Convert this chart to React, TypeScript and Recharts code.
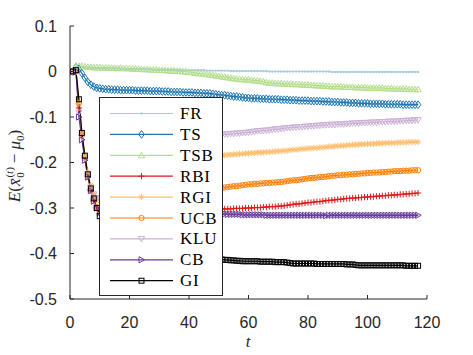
import { LineChart, Line, XAxis, YAxis } from 'recharts'

// time steps
const T = [
  1, 2, 3, 4, 5, 6, 7, 8, 9, 10,
  11, 12, 13, 14, 15, 16, 17, 18, 19, 20,
  21, 22, 23, 24, 25, 26, 27, 28, 29, 30,
  31, 32, 33, 34, 35, 36, 37, 38, 39, 40,
  41, 42, 43, 44, 45, 46, 47, 48, 49, 50,
  51, 52, 53, 54, 55, 56, 57, 58, 59, 60,
  61, 62, 63, 64, 65, 66, 67, 68, 69, 70,
  71, 72, 73, 74, 75, 76, 77, 78, 79, 80,
  81, 82, 83, 84, 85, 86, 87, 88, 89, 90,
  91, 92, 93, 94, 95, 96, 97, 98, 99, 100,
  101, 102, 103, 104, 105, 106, 107, 108, 109, 110,
  111, 112, 113, 114, 115, 116, 117,
]

const FR = [
  0, 0.010, 0.009, 0.009, 0.008, 0.008, 0.008, 0.007, 0.007, 0.007,
  0.007, 0.007, 0.006, 0.006, 0.006, 0.006, 0.006, 0.006, 0.005, 0.005,
  0.005, 0.005, 0.005, 0.005, 0.005, 0.005, 0.005, 0.004, 0.004, 0.004,
  0.004, 0.004, 0.004, 0.004, 0.004, 0.004, 0.003, 0.003, 0.003, 0.003,
  0.003, 0.003, 0.003, 0.003, 0.003, 0.002, 0.002, 0.002, 0.002, 0.002,
  0.002, 0.002, 0.002, 0.001, 0.001, 0.001, 0.001, 0.001, 0.001, 0.001,
  0.001, 0.001, 0.001, 0.001, 0.001, 0.001, 0, 0, 0, 0,
  0, 0, 0, 0, 0, 0, 0, 0, 0, 0,
  0, 0, 0, 0, 0, 0, 0, -0.001, -0.001, -0.001,
  -0.001, -0.001, -0.001, -0.001, -0.001, -0.001, -0.001, -0.001, -0.001, -0.001,
  -0.001, -0.001, -0.001, -0.001, -0.001, -0.001, -0.001, -0.001, -0.001, -0.001,
  -0.001, -0.001, -0.001, -0.001, -0.001, -0.001, -0.001,
]

const TS = [
  0, 0.010, 0.006, -0.004, -0.014, -0.023, -0.029, -0.033, -0.036, -0.037,
  -0.038, -0.039, -0.039, -0.040, -0.040, -0.040, -0.041, -0.041, -0.041, -0.041,
  -0.041, -0.042, -0.042, -0.042, -0.042, -0.042, -0.043, -0.043, -0.043, -0.043,
  -0.044, -0.044, -0.044, -0.045, -0.045, -0.045, -0.045, -0.046, -0.046, -0.046,
  -0.046, -0.047, -0.047, -0.047, -0.048, -0.048, -0.048, -0.049, -0.050, -0.051,
  -0.052, -0.052, -0.053, -0.054, -0.055, -0.055, -0.056, -0.057, -0.058, -0.058,
  -0.059, -0.059, -0.059, -0.060, -0.060, -0.060, -0.061, -0.061, -0.061, -0.061,
  -0.062, -0.062, -0.062, -0.063, -0.063, -0.063, -0.064, -0.064, -0.064, -0.064,
  -0.065, -0.065, -0.065, -0.065, -0.066, -0.066, -0.066, -0.067, -0.067, -0.067,
  -0.068, -0.068, -0.068, -0.069, -0.069, -0.069, -0.070, -0.070, -0.070, -0.070,
  -0.071, -0.071, -0.071, -0.071, -0.071, -0.072, -0.072, -0.072, -0.072, -0.072,
  -0.072, -0.073, -0.073, -0.073, -0.073, -0.073, -0.073,
]

const TSB = [
  0, 0.013, 0.012, 0.012, 0.011, 0.010, 0.010, 0.009, 0.009, 0.009,
  0.008, 0.009, 0.008, 0.008, 0.008, 0.007, 0.008, 0.007, 0.007, 0.007,
  0.006, 0.006, 0.006, 0.005, 0.005, 0.005, 0.004, 0.004, 0.004, 0.003,
  0.003, 0.003, 0.002, 0.002, 0.002, 0.001, 0.001, 0, 0, -0.001,
  -0.002, -0.003, -0.004, -0.004, -0.005, -0.006, -0.007, -0.008, -0.009, -0.010,
  -0.011, -0.012, -0.013, -0.014, -0.015, -0.016, -0.017, -0.017, -0.018, -0.018,
  -0.019, -0.020, -0.020, -0.021, -0.022, -0.024, -0.025, -0.025, -0.026, -0.026,
  -0.026, -0.027, -0.027, -0.027, -0.028, -0.028, -0.028, -0.029, -0.029, -0.029,
  -0.030, -0.030, -0.031, -0.031, -0.031, -0.032, -0.032, -0.033, -0.033, -0.033,
  -0.033, -0.034, -0.034, -0.034, -0.034, -0.035, -0.035, -0.035, -0.035, -0.036,
  -0.036, -0.036, -0.036, -0.036, -0.036, -0.037, -0.037, -0.037, -0.038, -0.038,
  -0.038, -0.038, -0.038, -0.039, -0.039, -0.039, -0.039,
]

const RBI = [
  0, 0, -0.080, -0.140, -0.190, -0.230, -0.260, -0.283, -0.300, -0.312,
  -0.320, -0.325, -0.328, -0.330, -0.331, -0.331, -0.331, -0.330, -0.329, -0.328,
  -0.327, -0.326, -0.325, -0.324, -0.323, -0.322, -0.321, -0.320, -0.319, -0.318,
  -0.317, -0.316, -0.315, -0.314, -0.313, -0.312, -0.311, -0.310, -0.309, -0.308,
  -0.307, -0.306, -0.306, -0.305, -0.304, -0.304, -0.303, -0.303, -0.302, -0.302,
  -0.302, -0.302, -0.302, -0.302, -0.301, -0.301, -0.301, -0.301, -0.300, -0.300,
  -0.300, -0.299, -0.299, -0.299, -0.298, -0.298, -0.297, -0.297, -0.297, -0.296,
  -0.296, -0.295, -0.294, -0.293, -0.292, -0.291, -0.291, -0.290, -0.289, -0.288,
  -0.288, -0.287, -0.286, -0.286, -0.285, -0.284, -0.283, -0.283, -0.282, -0.281,
  -0.281, -0.280, -0.279, -0.279, -0.278, -0.278, -0.277, -0.277, -0.276, -0.276,
  -0.275, -0.275, -0.274, -0.274, -0.273, -0.273, -0.272, -0.272, -0.271, -0.271,
  -0.270, -0.270, -0.269, -0.269, -0.268, -0.268, -0.267,
]

const RGI = [
  0, 0, -0.070, -0.135, -0.185, -0.220, -0.250, -0.268, -0.280, -0.285,
  -0.286, -0.285, -0.283, -0.280, -0.276, -0.272, -0.268, -0.264, -0.260, -0.256,
  -0.252, -0.248, -0.244, -0.241, -0.238, -0.235, -0.232, -0.229, -0.226, -0.223,
  -0.220, -0.218, -0.216, -0.214, -0.212, -0.210, -0.208, -0.206, -0.204, -0.202,
  -0.200, -0.198, -0.196, -0.195, -0.193, -0.191, -0.190, -0.188, -0.186, -0.185,
  -0.184, -0.184, -0.183, -0.183, -0.182, -0.182, -0.181, -0.181, -0.180, -0.180,
  -0.179, -0.179, -0.178, -0.178, -0.178, -0.177, -0.177, -0.176, -0.176, -0.175,
  -0.175, -0.174, -0.174, -0.173, -0.172, -0.172, -0.171, -0.170, -0.170, -0.169,
  -0.169, -0.168, -0.168, -0.167, -0.167, -0.166, -0.165, -0.165, -0.164, -0.164,
  -0.163, -0.163, -0.162, -0.162, -0.161, -0.161, -0.160, -0.160, -0.160, -0.159,
  -0.159, -0.159, -0.158, -0.158, -0.158, -0.157, -0.157, -0.157, -0.157, -0.156,
  -0.156, -0.156, -0.156, -0.155, -0.155, -0.155, -0.155,
]

const UCB = [
  0, 0, -0.070, -0.140, -0.190, -0.230, -0.262, -0.285, -0.298, -0.305,
  -0.308, -0.309, -0.309, -0.308, -0.306, -0.304, -0.302, -0.300, -0.298, -0.296,
  -0.294, -0.292, -0.290, -0.288, -0.286, -0.284, -0.282, -0.280, -0.278, -0.277,
  -0.275, -0.274, -0.272, -0.271, -0.269, -0.268, -0.267, -0.266, -0.265, -0.264,
  -0.263, -0.262, -0.261, -0.260, -0.260, -0.259, -0.258, -0.258, -0.257, -0.256,
  -0.256, -0.255, -0.254, -0.253, -0.252, -0.252, -0.251, -0.250, -0.249, -0.248,
  -0.248, -0.247, -0.247, -0.246, -0.246, -0.245, -0.245, -0.244, -0.244, -0.243,
  -0.243, -0.242, -0.241, -0.240, -0.239, -0.239, -0.238, -0.237, -0.236, -0.235,
  -0.234, -0.234, -0.233, -0.232, -0.232, -0.231, -0.230, -0.229, -0.229, -0.228,
  -0.228, -0.227, -0.227, -0.226, -0.226, -0.225, -0.225, -0.224, -0.224, -0.223,
  -0.223, -0.222, -0.222, -0.222, -0.221, -0.221, -0.220, -0.220, -0.219, -0.219,
  -0.219, -0.218, -0.218, -0.218, -0.217, -0.217, -0.217,
]

const KLU = [
  0, 0, -0.090, -0.145, -0.190, -0.228, -0.255, -0.270, -0.278, -0.280,
  -0.279, -0.275, -0.270, -0.264, -0.258, -0.252, -0.246, -0.240, -0.234, -0.229,
  -0.224, -0.219, -0.214, -0.210, -0.206, -0.202, -0.198, -0.194, -0.191, -0.188,
  -0.185, -0.182, -0.179, -0.176, -0.173, -0.170, -0.168, -0.166, -0.164, -0.162,
  -0.160, -0.158, -0.156, -0.154, -0.152, -0.150, -0.148, -0.146, -0.144, -0.141,
  -0.139, -0.138, -0.138, -0.137, -0.137, -0.136, -0.136, -0.135, -0.135, -0.134,
  -0.133, -0.132, -0.131, -0.131, -0.130, -0.130, -0.129, -0.128, -0.127, -0.127,
  -0.126, -0.125, -0.124, -0.124, -0.123, -0.123, -0.122, -0.122, -0.121, -0.121,
  -0.120, -0.120, -0.119, -0.119, -0.118, -0.118, -0.117, -0.117, -0.117, -0.116,
  -0.116, -0.116, -0.115, -0.115, -0.114, -0.114, -0.114, -0.113, -0.113, -0.113,
  -0.112, -0.112, -0.112, -0.111, -0.111, -0.111, -0.110, -0.110, -0.110, -0.110,
  -0.109, -0.109, -0.108, -0.108, -0.108, -0.107, -0.107,
]

const CB = [
  0, 0, -0.100, -0.150, -0.195, -0.232, -0.262, -0.285, -0.300, -0.310,
  -0.316, -0.319, -0.320, -0.320, -0.320, -0.319, -0.318, -0.317, -0.316, -0.315,
  -0.314, -0.313, -0.312, -0.312, -0.311, -0.311, -0.311, -0.311, -0.311, -0.311,
  -0.311, -0.311, -0.311, -0.312, -0.312, -0.312, -0.312, -0.312, -0.312, -0.312,
  -0.312, -0.312, -0.313, -0.313, -0.313, -0.313, -0.313, -0.313, -0.313, -0.313,
  -0.313, -0.313, -0.314, -0.314, -0.314, -0.314, -0.314, -0.315, -0.315, -0.315,
  -0.315, -0.315, -0.315, -0.315, -0.315, -0.316, -0.316, -0.316, -0.316, -0.316,
  -0.316, -0.316, -0.316, -0.316, -0.316, -0.316, -0.316, -0.316, -0.316, -0.316,
  -0.316, -0.316, -0.316, -0.316, -0.316, -0.317, -0.316, -0.316, -0.316, -0.316,
  -0.316, -0.316, -0.316, -0.316, -0.316, -0.316, -0.316, -0.316, -0.316, -0.316,
  -0.316, -0.316, -0.316, -0.316, -0.316, -0.316, -0.316, -0.316, -0.316, -0.316,
  -0.316, -0.316, -0.316, -0.316, -0.316, -0.316, -0.316,
]

const GI = [
  0, 0.003, -0.061, -0.135, -0.185, -0.226, -0.257, -0.279, -0.300, -0.318,
  -0.332, -0.343, -0.352, -0.359, -0.365, -0.370, -0.374, -0.378, -0.381, -0.384,
  -0.386, -0.388, -0.390, -0.392, -0.393, -0.395, -0.396, -0.397, -0.398, -0.399,
  -0.400, -0.401, -0.402, -0.403, -0.403, -0.404, -0.405, -0.405, -0.406, -0.406,
  -0.407, -0.407, -0.408, -0.408, -0.409, -0.409, -0.410, -0.410, -0.411, -0.412,
  -0.413, -0.414, -0.414, -0.415, -0.415, -0.416, -0.416, -0.417, -0.417, -0.417,
  -0.417, -0.417, -0.417, -0.418, -0.418, -0.418, -0.418, -0.418, -0.419, -0.419,
  -0.419, -0.419, -0.420, -0.421, -0.422, -0.422, -0.422, -0.422, -0.422, -0.422,
  -0.422, -0.422, -0.423, -0.423, -0.423, -0.423, -0.423, -0.423, -0.423, -0.423,
  -0.423, -0.423, -0.424, -0.424, -0.424, -0.425, -0.426, -0.426, -0.426, -0.426,
  -0.426, -0.426, -0.426, -0.426, -0.426, -0.426, -0.426, -0.426, -0.426, -0.426,
  -0.426, -0.426, -0.427, -0.427, -0.427, -0.427, -0.427,
]

const X_TICKS = [0, 20, 40, 60, 80, 100, 120]
const Y_TICKS = [-0.5, -0.4, -0.3, -0.2, -0.1, 0, 0.1]

const SERIES = [
  { key: 'FR', color: '#a6cee3', shape: 'dot', values: FR },
  { key: 'TS', color: '#1f78b4', shape: 'diamond', values: TS },
  { key: 'TSB', color: '#b2df8a', shape: 'triUp', values: TSB },
  { key: 'RBI', color: '#e31a1c', shape: 'plus', values: RBI },
  { key: 'RGI', color: '#fdbf6f', shape: 'star', values: RGI },
  { key: 'UCB', color: '#ff7f00', shape: 'circle', values: UCB },
  { key: 'KLU', color: '#cab2d6', shape: 'triDown', values: KLU },
  { key: 'CB', color: '#6a3d9a', shape: 'triRight', values: CB },
  { key: 'GI', color: '#000000', shape: 'square', values: GI },
]

const AXIS = '#262626'
const SANS = '"Liberation Sans", Arial, sans-serif'
const SERIF = '"Liberation Serif", "Times New Roman", serif'

const rows = T.map((t, i) => {
  const r: any = { t }
  SERIES.forEach(s => { r[s.key] = s.values[i] })
  return r
})

function Marker({ shape, cx, cy, color }: { shape: string; cx: number; cy: number; color: string }) {
  const s = 3.1
  const common = { fill: 'none', stroke: color, strokeWidth: 1 }
  switch (shape) {
    case 'dot':
      return <circle cx={cx} cy={cy} r={1.2} fill={color} />
    case 'diamond':
      return <polygon points={`${cx},${cy - s * 1.25} ${cx + s * 0.9},${cy} ${cx},${cy + s * 1.25} ${cx - s * 0.9},${cy}`} {...common} />
    case 'triUp':
      return <polygon points={`${cx},${cy - s} ${cx + s},${cy + s * 0.8} ${cx - s},${cy + s * 0.8}`} {...common} />
    case 'triDown':
      return <polygon points={`${cx},${cy + s} ${cx + s},${cy - s * 0.8} ${cx - s},${cy - s * 0.8}`} {...common} />
    case 'triRight':
      return <polygon points={`${cx + s},${cy} ${cx - s * 0.8},${cy - s} ${cx - s * 0.8},${cy + s}`} {...common} />
    case 'plus':
      return <path d={`M${cx - s},${cy}H${cx + s}M${cx},${cy - s}V${cy + s}`} {...common} />
    case 'star':
      return <path d={`M${cx - s},${cy}H${cx + s}M${cx},${cy - s}V${cy + s}M${cx - s * 0.7},${cy - s * 0.7}L${cx + s * 0.7},${cy + s * 0.7}M${cx - s * 0.7},${cy + s * 0.7}L${cx + s * 0.7},${cy - s * 0.7}`} {...common} />
    case 'circle':
      return <circle cx={cx} cy={cy} r={s * 0.85} {...common} />
    case 'square':
      return <rect x={cx - s * 0.8} y={cy - s * 0.8} width={s * 1.6} height={s * 1.6} {...common} />
    default:
      return null
  }
}

const fmtY = (v: number) => (v === 0 ? '0' : v.toFixed(1))

const XTick = (p: any) => (
  <g>
    <line x1={p.x} x2={p.x} y1={p.y} y2={p.y - 4} stroke={AXIS} />
    <text x={p.x} y={p.y + 29} textAnchor="middle" fontFamily={SANS} fontSize={16} fill={AXIS}>
      {p.payload.value}
    </text>
  </g>
)

const YTick = (p: any) => (
  <g>
    <line x1={p.x} x2={p.x + 4} y1={p.y} y2={p.y} stroke={AXIS} />
    <text x={p.x - 13} y={p.y + 5.7} textAnchor="end" fontFamily={SANS} fontSize={16} fill={AXIS}>
      {fmtY(p.payload.value)}
    </text>
  </g>
)

function LegendBox() {
  const step = 20.9
  return (
    <svg width={125} height={200} style={{ position: 'absolute', left: 98.5, top: 96.5 }}>
      <rect x={0.5} y={0.5} width={123} height={198} fill="#fff" stroke={AXIS} strokeWidth={1} />
      {SERIES.map((s, i) => {
        const y = 16.5 + i * step
        return (
          <g key={s.key}>
            <line x1={11} x2={74} y1={y} y2={y} stroke={s.color} strokeWidth={1.2} />
            <Marker shape={s.shape} cx={42.5} cy={y} color={s.color} />
            <text x={81} y={y + 5.5} fontFamily={SERIF} fontSize={17} letterSpacing={0.8} fill="#000">
              {s.key}
            </text>
          </g>
        )
      })}
    </svg>
  )
}

function Labels() {
  return (
    <svg width={473} height={355} style={{ position: 'absolute', left: 0, top: 0, pointerEvents: 'none' }}>
      <text x={248} y={347} textAnchor="middle" fontFamily={SERIF} fontSize={17} fontStyle="italic" fill={AXIS}>
        t
      </text>
      <g transform="translate(20,166) rotate(-90)">
        <text x={0} y={0} textAnchor="middle" fontFamily={SERIF} fontSize={17} fill={AXIS}>
          <tspan fontStyle="italic">E</tspan>
          <tspan>(</tspan>
          <tspan fontStyle="italic">{'x\u0304'}</tspan>
          <tspan fontSize={11} dx={1} dy={-7}>(</tspan>
          <tspan fontSize={11} fontStyle="italic">t</tspan>
          <tspan fontSize={11}>)</tspan>
          <tspan fontSize={11} dx={-10.5} dy={11}>0</tspan>
          <tspan dx={9} dy={-4}>{'\u2212'}</tspan>
          <tspan dx={4} fontStyle="italic">{'\u03bc'}</tspan>
          <tspan fontSize={11} dy={4}>0</tspan>
          <tspan dy={-4}>)</tspan>
        </text>
      </g>
    </svg>
  )
}

export default function App() {
  return (
    <div style={{ position: 'absolute', left: 0, top: 0, width: 473, height: 355, background: '#fff' }}>
      <LineChart width={473} height={355} data={rows} margin={{ top: 26, right: 46, bottom: 0, left: 0 }}>
        <XAxis
          dataKey="t"
          type="number"
          domain={[0, 120]}
          ticks={X_TICKS}
          interval={0}
          height={56}
          tickSize={0}
          tickMargin={0}
          tickLine={false}
          axisLine={{ stroke: AXIS }}
          tick={XTick}
        />
        <YAxis
          type="number"
          domain={[-0.5, 0.1]}
          ticks={Y_TICKS}
          interval={0}
          width={70}
          tickSize={0}
          tickMargin={0}
          tickLine={false}
          axisLine={{ stroke: AXIS }}
          tick={YTick}
        />
        {SERIES.map(s => (
          <Line
            key={s.key}
            dataKey={s.key}
            stroke={s.color}
            strokeWidth={1.2}
            isAnimationActive={false}
            activeDot={false}
            dot={(p: any) => <Marker key={`${s.key}-${p.index}`} shape={s.shape} cx={p.cx} cy={p.cy} color={s.color} />}
          />
        ))}
      </LineChart>
      <Labels />
      <LegendBox />
    </div>
  )
}
